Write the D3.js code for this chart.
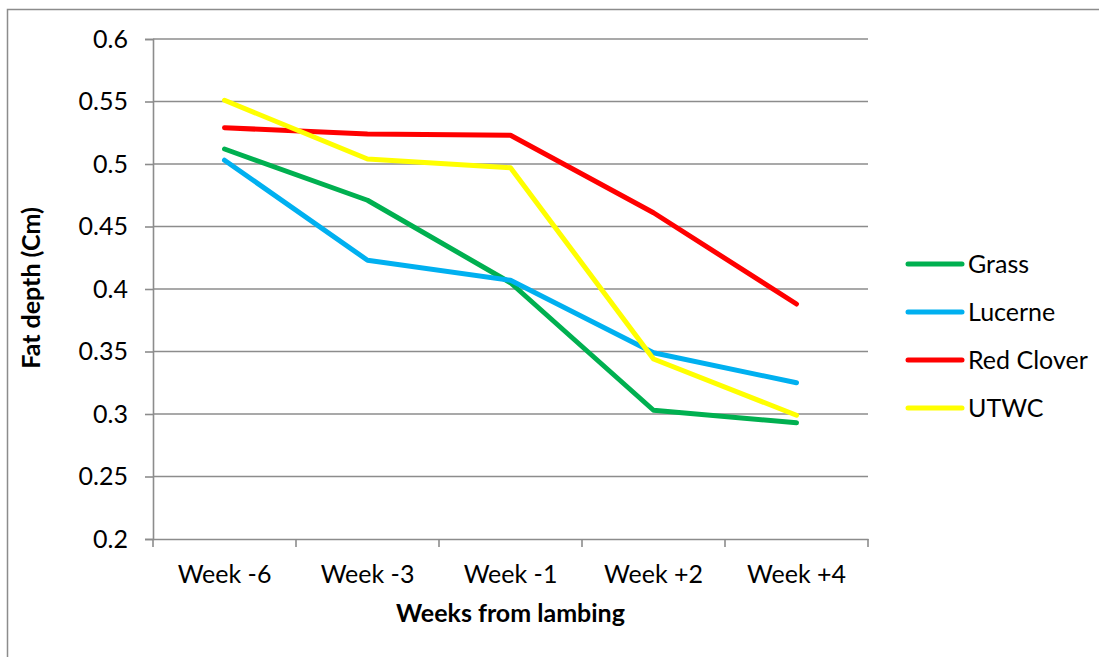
<!DOCTYPE html>
<html>
<head>
<meta charset="utf-8">
<script src="https://cdn.jsdelivr.net/npm/d3@7"></script>
<style>
  html, body { margin: 0; padding: 0; background: #fff; }
  svg text { font-family: Lato, "Open Sans", sans-serif; fill: #000; }
</style>
</head>
<body>
<svg id="chart" width="1099" height="657"></svg>
<script>
// Fat depth measurements by forage type, relative to lambing
const categories = ["Week -6", "Week -3", "Week -1", "Week +2", "Week +4"];
const seriesNames = ["Grass", "Lucerne", "Red Clover", "UTWC"];
const grass     = [0.512, 0.471, 0.405, 0.303, 0.293];
const lucerne   = [0.503, 0.423, 0.407, 0.349, 0.325];
const redClover = [0.529, 0.524, 0.523, 0.461, 0.388];
const utwc      = [0.551, 0.504, 0.497, 0.344, 0.299];
const yTicks = [0.2, 0.25, 0.3, 0.35, 0.4, 0.45, 0.5, 0.55, 0.6];
const colors = ["#00B050", "#00B0F0", "#FF0000", "#FFFF00"];

const series = [grass, lucerne, redClover, utwc].map((values, i) => ({
  name: seriesNames[i], values, color: colors[i]
}));

const svg = d3.select("#chart");
const plot = { left: 153, right: 868, top: 39, bottom: 539 };
const fs = 25;

// outer chart border
svg.append("rect")
  .attr("x", 7.5).attr("y", 9.5)
  .attr("width", 1120).attr("height", 700)
  .attr("fill", "#fff").attr("stroke", "#8c8c8c").attr("stroke-width", 1.5);

const x = d3.scaleBand().domain(categories).range([plot.left, plot.right]).padding(0);
const y = d3.scaleLinear().domain([0.2, 0.6]).range([plot.bottom, plot.top]);

// horizontal gridlines
svg.append("g")
  .selectAll("line")
  .data(yTicks.filter(t => t > 0.2))
  .join("line")
  .attr("x1", plot.left).attr("x2", plot.right)
  .attr("y1", d => y(d)).attr("y2", d => y(d))
  .attr("stroke", "#8c8c8c").attr("stroke-width", 1.6);

// y axis
const yAxis = svg.append("g")
  .attr("transform", `translate(${plot.left},0)`)
  .call(d3.axisLeft(y).tickValues(yTicks).tickSize(8).tickPadding(17)
    .tickFormat(d => String(+d.toFixed(2))));
yAxis.select(".domain").attr("stroke", "#8c8c8c").attr("stroke-width", 1.6);
yAxis.selectAll(".tick line").attr("stroke", "#8c8c8c").attr("stroke-width", 1.6);
yAxis.selectAll(".tick text").attr("font-size", fs).attr("fill", "#000");

// x axis with ticks at category boundaries
const xAxis = svg.append("g")
  .attr("transform", `translate(0,${plot.bottom})`)
  .call(d3.axisBottom(x).tickSize(0).tickPadding(26));
xAxis.select(".domain").attr("stroke", "#8c8c8c").attr("stroke-width", 1.6);
xAxis.selectAll(".tick text").attr("font-size", fs).attr("fill", "#000");
const boundaries = categories.map(c => x(c)).concat([x(categories[categories.length - 1]) + x.bandwidth()]);
xAxis.selectAll(".bound")
  .data(boundaries)
  .join("line")
  .attr("class", "bound")
  .attr("x1", d => d).attr("x2", d => d)
  .attr("y1", 0).attr("y2", 8)
  .attr("stroke", "#8c8c8c").attr("stroke-width", 1.6);

// series lines
const line = d3.line()
  .x((d, i) => x(categories[i]) + x.bandwidth() / 2)
  .y(d => y(d));

svg.append("g")
  .selectAll("path")
  .data(series)
  .join("path")
  .attr("d", d => line(d.values))
  .attr("fill", "none")
  .attr("stroke", d => d.color)
  .attr("stroke-width", 5)
  .attr("stroke-linejoin", "round")
  .attr("stroke-linecap", "round");

// axis titles
svg.append("text")
  .attr("x", (plot.left + plot.right) / 2).attr("y", 622)
  .attr("text-anchor", "middle")
  .attr("font-size", fs).attr("font-weight", "bold")
  .text("Weeks from lambing");

svg.append("text")
  .attr("transform", `translate(40,${(plot.top + plot.bottom) / 2 - 1}) rotate(-90)`)
  .attr("text-anchor", "middle")
  .attr("font-size", fs).attr("font-weight", "bold")
  .text("Fat depth (Cm)");

// legend
const legend = svg.append("g")
  .selectAll("g")
  .data(series)
  .join("g")
  .attr("transform", (d, i) => `translate(908,${264 + i * 48})`);
legend.append("line")
  .attr("x1", 0).attr("x2", 54)
  .attr("stroke", d => d.color).attr("stroke-width", 5)
  .attr("stroke-linecap", "round");
legend.append("text")
  .attr("x", 60).attr("y", 0).attr("dy", "0.35em")
  .attr("font-size", fs)
  .text(d => d.name);
</script>
</body>
</html>
